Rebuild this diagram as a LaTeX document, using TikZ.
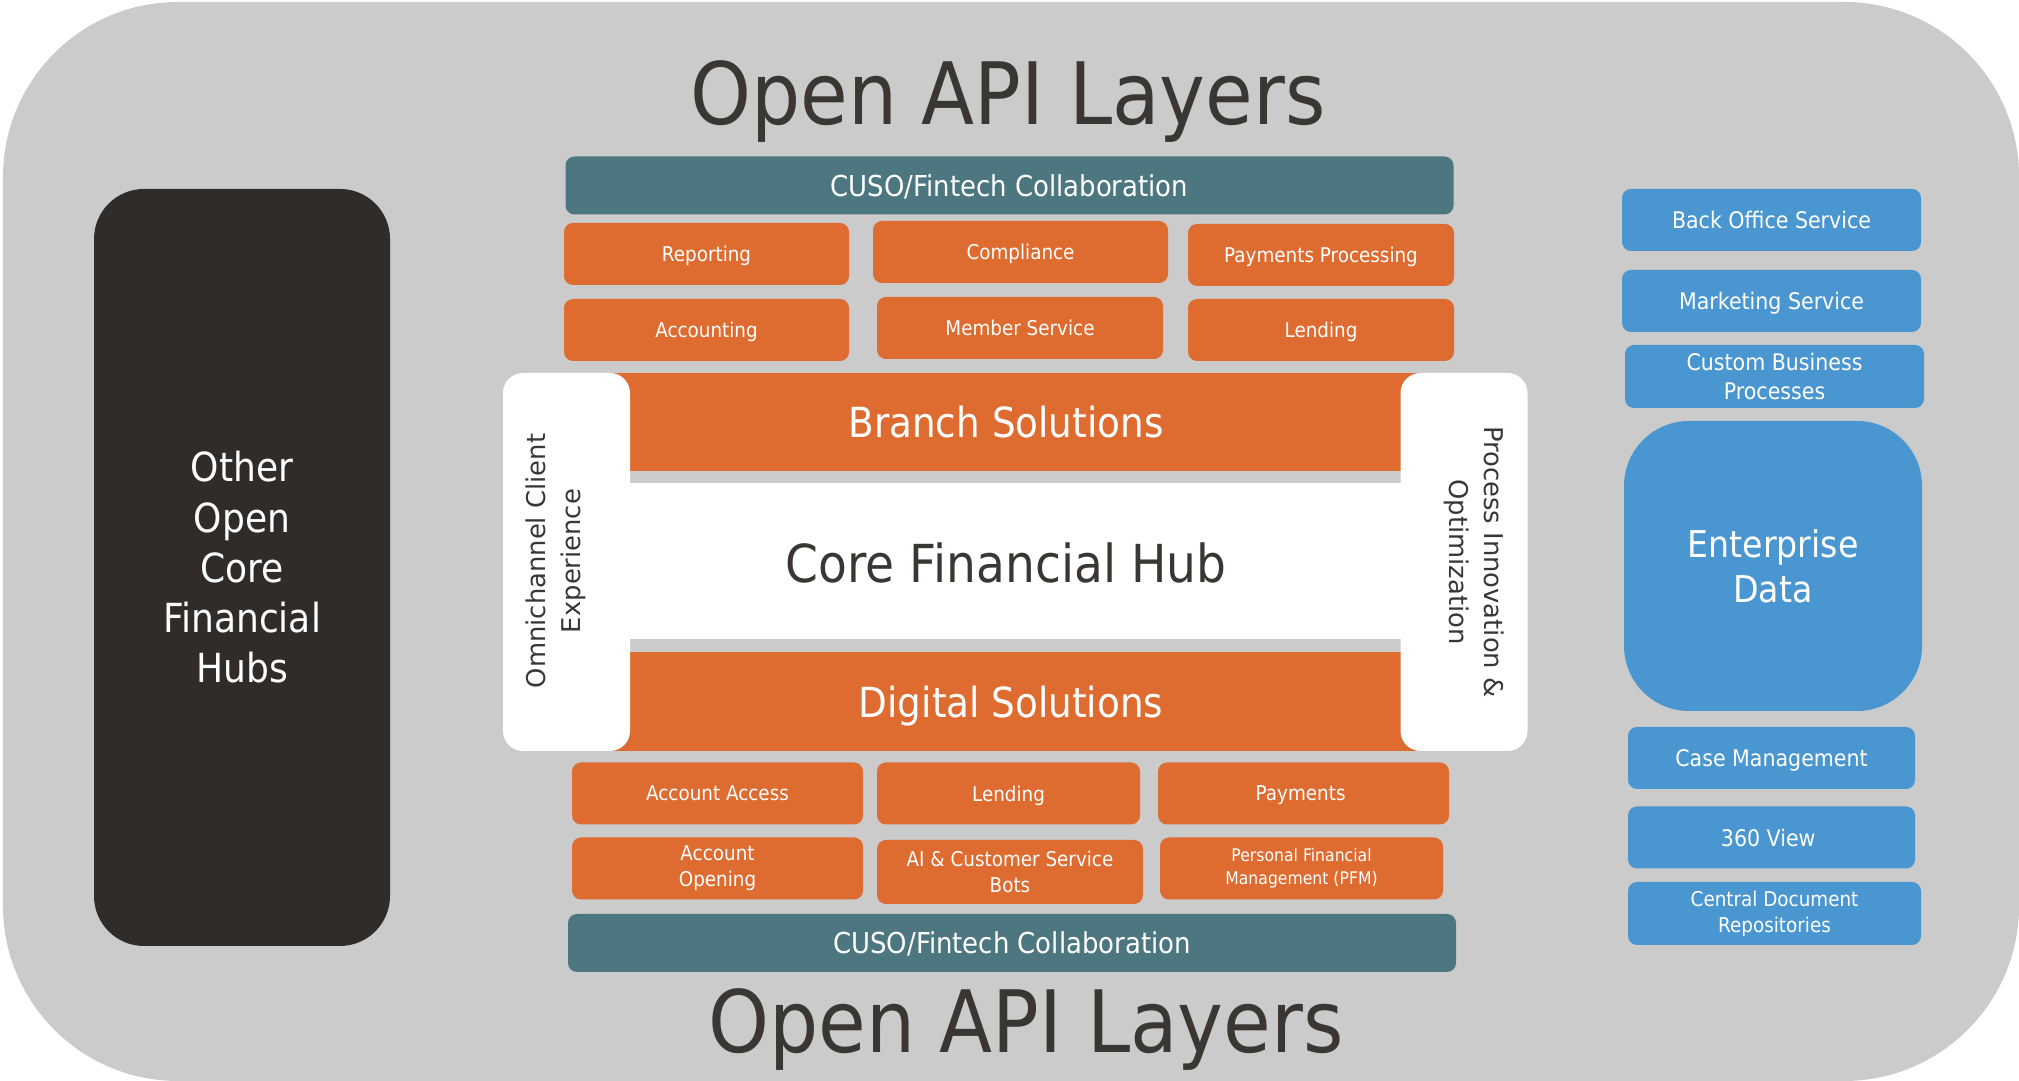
\documentclass[tikz,border=0pt]{standalone}
\usepackage{fontspec}
\setmainfont{DejaVu Sans}[FakeStretch=0.9]
\newfontfamily\widefont{DejaVu Sans}
\usepackage{tikz}
\definecolor{apigray}{HTML}{CBCBCB}
\definecolor{hubdark}{HTML}{302C29}
\definecolor{solorange}{HTML}{DE6B2F}
\definecolor{fintechteal}{HTML}{4D7780}
\definecolor{servblue}{HTML}{4A96D1}
\definecolor{titletext}{HTML}{3A3733}

\begin{document}
\begin{tikzpicture}[
    box/.style={rectangle, rounded corners=0.09cm, inner sep=0pt, align=center, text=white},
    oneline/.style={text depth=0pt},
    solbox/.style={box, fill=solorange, minimum height=0.62cm, font=\fontsize{5.8}{7.3}\selectfont},
    servbox/.style={box, fill=servblue, minimum height=0.62cm, font=\fontsize{6.5}{8}\selectfont},
    fintech/.style={box, oneline, fill=fintechteal, minimum width=8.88cm, minimum height=0.58cm, font=\fontsize{8.2}{10}\selectfont},
    bigbar/.style={rectangle, oneline, fill=solorange, inner sep=0pt, text=white, minimum height=0.98cm, font=\fontsize{11.8}{14}\selectfont},
    sidepanel/.style={box, fill=white, rounded corners=0.2cm, minimum width=1.27cm, minimum height=3.78cm},
    sidetext/.style={align=center, inner sep=0pt, text=titletext, font=\widefont\fontsize{7.35}{10}\selectfont},
    apititle/.style={inner sep=0pt, text=titletext, font=\fontsize{24.5}{28}\selectfont}
  ]
    \useasboundingbox (0,0) rectangle (20.19,10.81);
    \fill[apigray, rounded corners=1.75cm] (0.03,0) rectangle (20.19,10.79);  %Hintergrund

    \node[apititle, anchor=base] (apitop) at (10.08,9.56) {Open API Layers};
    \node[apititle, anchor=base] (apibottom) at (10.26,0.28) {Open API Layers};

    %linke Spalte
    \node[box, fill=hubdark, rounded corners=0.5cm, minimum width=2.96cm, minimum height=7.57cm,
      font=\fontsize{11.4}{14.3}\selectfont] (otherhubs) at (2.42,5.135) {Other\\Open\\Core\\Financial\\Hubs};

    %Mitte
    \node[fintech] (fintechtop) at (10.095,8.955) {CUSO/Fintech Collaboration};
    \node[fintech] (fintechbottom) at (10.12,1.38) {CUSO/Fintech Collaboration};
    \foreach \boxname/\bx/\by/\bw/\btext in
    {
      reporting/7.065/8.27/2.85/Reporting,
      compliance/10.205/8.29/2.95/Compliance,
      paymentsproc/13.21/8.26/2.66/Payments Processing,
      accounting/7.065/7.51/2.85/Accounting,
      memberservice/10.20/7.53/2.86/Member Service,
      lendingtop/13.21/7.51/2.66/Lending,
      accountaccess/7.175/2.875/2.91/Account Access,
      lendingbottom/10.085/2.875/2.63/Lending,
      payments/13.035/2.875/2.91/Payments
    }
    {
      \node[solbox, oneline, minimum width=\bw cm] (\boxname) at (\bx,\by) {\btext};
    }
    \node[solbox, minimum width=2.91cm] (accountopening) at (7.175,2.125) {Account\\Opening};
    \node[solbox, minimum width=2.66cm, minimum height=0.64cm] (aibots) at (10.10,2.09) {AI \& Customer Service\\Bots};
    \node[solbox, minimum width=2.83cm, font=\fontsize{4.95}{6.6}\selectfont] (pfm) at (13.015,2.125)
      {Personal Financial\\Management (PFM)};

    \node[bigbar, minimum width=8.32cm] (branch) at (10.06,6.59) {Branch Solutions};
    \node[rectangle, fill=white, inner sep=0pt, minimum width=8.1cm, minimum height=1.56cm,
      text height=0.44cm, text depth=0pt, text=titletext, font=\fontsize{14.9}{16}\selectfont] (corehub) at (10.06,5.20) {Core Financial Hub};
    \node[bigbar, minimum width=8.22cm, minimum height=0.99cm] (digital) at (10.11,3.795) {Digital Solutions};

    \node[sidepanel] (omnipanel) at (5.665,5.19) {};
    \node[sidetext, rotate=90] (omnitext) at (5.56,5.20) {Omnichannel Client\\Experience};
    \node[sidepanel] (processpanel) at (14.64,5.19) {};
    \node[sidetext, rotate=-90] (processtext) at (14.74,5.19) {Process Innovation \&\\Optimization};

    %rechte Spalte
    \foreach \boxname/\by/\bw/\btext in
    {
      backoffice/8.61/2.99/Back Office Service,
      marketing/7.80/2.99/Marketing Service,
      casemanagement/3.23/2.87/Case Management,
      threesixty/2.435/2.87/360 View
    }
    {
      \node[servbox, oneline, minimum width=\bw cm] (\boxname) at (17.715,\by) {\btext};
    }
    \node[servbox, minimum width=2.99cm, minimum height=0.63cm] (custombusiness) at (17.745,7.045) {Custom Business\\Processes};
    \node[servbox, minimum width=2.93cm, minimum height=0.63cm, font=\fontsize{5.8}{7.4}\selectfont] (centraldocs) at (17.745,1.675)
      {Central Document\\Repositories};
    \node[servbox, rounded corners=0.65cm, minimum width=2.98cm, minimum height=2.90cm,
      font=\fontsize{10.5}{12.8}\selectfont] (enterprisedata) at (17.73,5.15) {Enterprise\\Data};
  \end{tikzpicture}
\end{document}
